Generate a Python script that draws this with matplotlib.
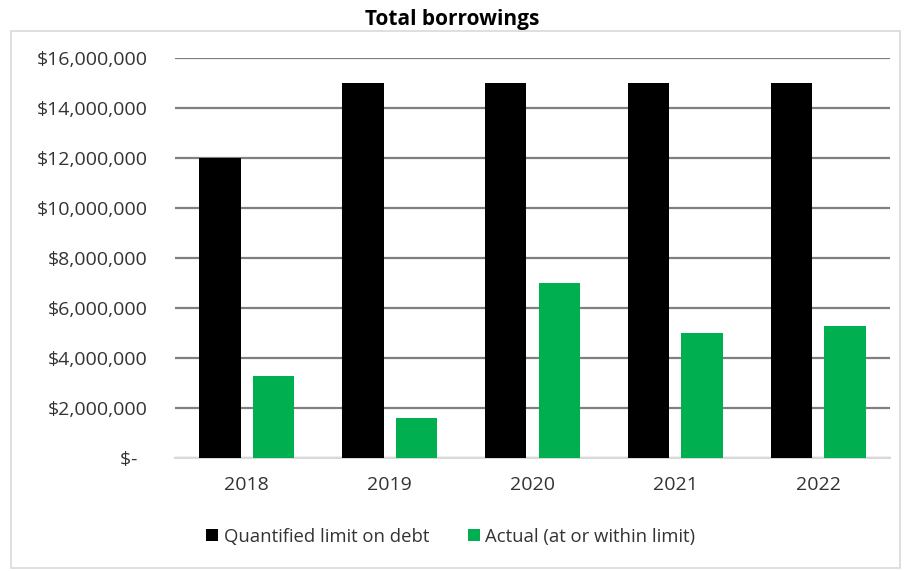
import matplotlib
matplotlib.use("Agg")
import matplotlib.pyplot as plt
import numpy as np
from matplotlib.patches import Rectangle

years = ["2018", "2019", "2020", "2021", "2022"]
limit = [12000000, 15000000, 15000000, 15000000, 15000000]
actual = [3280000, 1610000, 7000000, 5010000, 5290000]
yticks = [0, 2000000, 4000000, 6000000, 8000000, 10000000, 12000000, 14000000, 16000000]
ytick_labels = ["$-  ", "$2,000,000", "$4,000,000", "$6,000,000", "$8,000,000",
                "$10,000,000", "$12,000,000", "$14,000,000", "$16,000,000"]

plt.rcParams["font.family"] = ["Open Sans", "DejaVu Sans"]

fig = plt.figure(figsize=(9.05, 5.71), dpi=100)
ax = fig.add_axes([0.1934, 0.1979, 0.79, 0.7005])

# outer chart border
fig.patches.append(Rectangle((0.012, 0.005), 0.982, 0.94, transform=fig.transFigure,
                             fill=False, edgecolor="#d9d9d9", linewidth=1.2))

x = np.arange(len(years))
w = 0.287
gap = 0.084
ax.bar(x - (w + gap) / 2, limit, w, color="black", label="Quantified limit on debt", zorder=3)
ax.bar(x + (w + gap) / 2, actual, w, color="#00b050", label="Actual (at or within limit)", zorder=3)

ax.set_xlim(-0.5, len(years) - 0.5)
ax.set_ylim(0, 16000000)
ax.set_yticks(yticks)
ax.set_yticklabels(ytick_labels, fontsize=14, color="#333333")
ax.set_xticks(x)
ax.set_xticklabels(years, fontsize=14, color="#333333")
ax.tick_params(axis="both", length=0)
ax.tick_params(axis="y", pad=19.5)
ax.tick_params(axis="x", pad=13)

ax.grid(axis="y", color="#7f7f7f", linewidth=1.6, zorder=0)
for s in ["top", "right", "left"]:
    ax.spines[s].set_visible(False)
ax.spines["bottom"].set_color("#d9d9d9")
ax.spines["bottom"].set_linewidth(1.5)

fig.text(0.5, 0.966, "Total borrowings", ha="center", va="center",
         fontsize=15, fontweight="bold")

fig.legend(loc="center", bbox_to_anchor=(0.498, 0.06), ncol=2, frameon=False,
           fontsize=13.3, handlelength=0.65, handleheight=0.65, handletextpad=0.3,
           columnspacing=2.1, labelcolor="#333333")

fig.savefig("out.png", dpi=100)
